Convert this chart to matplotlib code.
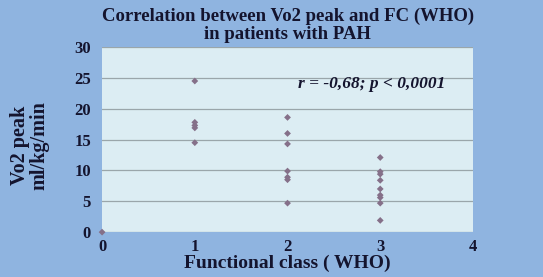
import matplotlib.pyplot as plt

# data
fc_class = [0,
            1, 1, 1, 1, 1,
            2, 2, 2, 2, 2, 2, 2,
            3, 3, 3, 3, 3, 3, 3, 3, 3]
vo2_peak = [0,
            24.5, 17.8, 17.3, 16.9, 14.5,
            18.6, 16.0, 14.3, 9.9, 8.9, 8.5, 4.7,
            12.1, 9.8, 9.4, 8.4, 7.0, 6.0, 5.6, 4.7, 1.9]
y_ticks = [0, 5, 10, 15, 20, 25, 30]
x_ticks = [0, 1, 2, 3, 4]

BG = "#8fb4e0"
PLOT_BG = "#dcedf3"
TXT = "#14142e"

plt.rcParams['font.family'] = ['Liberation Serif', 'DejaVu Serif']

fig = plt.figure(figsize=(5.43, 2.77), dpi=100, facecolor=BG)
ax = fig.add_axes([0.188, 0.162, 0.683, 0.668])
ax.set_facecolor(PLOT_BG)

ax.scatter(fc_class, vo2_peak, marker="D", s=12, color="#857089",
           edgecolors="none", zorder=3, clip_on=False)

ax.set_xlim(0, 4)
ax.set_ylim(0, 30)
ax.set_yticks(y_ticks)
ax.set_xticks(x_ticks)
ax.grid(axis="y", color="#9aa6aa", linewidth=0.9)
ax.set_axisbelow(True)
for s in ax.spines.values():
    s.set_visible(False)
ax.tick_params(length=0, labelsize=12, colors=TXT)
ax.tick_params(axis="x", pad=5)
ax.tick_params(axis="y", pad=8)
for lab in ax.get_xticklabels() + ax.get_yticklabels():
    lab.set_fontweight("bold")

ax.text(3.7, 24.0, "r = -0,68; p < 0,0001", fontsize=12.5, fontweight="bold",
        style="italic", ha="right", va="center", color=TXT)

fig.text(0.53, 0.972, "Correlation between Vo2 peak and FC (WHO)\nin patients with PAH",
         ha="center", va="top", fontsize=13.5, fontweight="bold", color=TXT,
         linespacing=1.1)
fig.text(0.53, 0.048, "Functional class ( WHO)", ha="center", va="center",
         fontsize=14, fontweight="bold", color=TXT)
fig.text(0.055, 0.475, "Vo2 peak\nml/kg/min", ha="center", va="center",
         rotation=90, fontsize=14.5, fontweight="bold", color=TXT,
         linespacing=1.0)

fig.savefig("out.png", dpi=100, facecolor=BG)
